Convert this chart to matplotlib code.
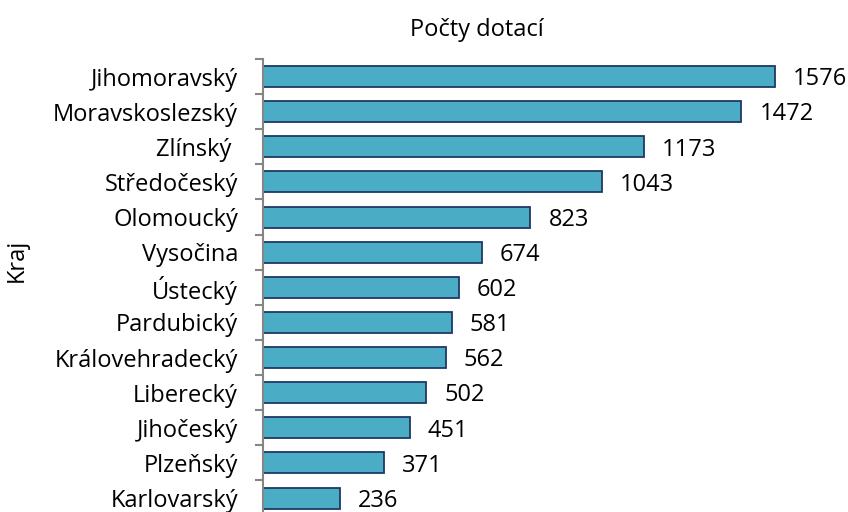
import matplotlib
matplotlib.use("Agg")
import matplotlib.pyplot as plt
import numpy as np

categories = ["Jihomoravský", "Moravskoslezský", "Zlínský ", "Středočeský", "Olomoucký",
              "Vysočina", "Ústecký", "Pardubický", "Královehradecký", "Liberecký",
              "Jihočeský", "Plzeňský", "Karlovarský"]
values = [1576, 1472, 1173, 1043, 823, 674, 602, 581, 562, 502, 451, 371, 236]
title = "Počty dotací"
ylabel = "Kraj"

plt.rcParams['font.family'] = ['Open Sans', 'DejaVu Sans']
FS = 17

fig = plt.figure(figsize=(8.48, 5.12), dpi=100)
ax = fig.add_axes([263/848, -3.6/512, 585/848, 456.6/512])

n = len(categories)
pos = np.arange(n)
ax.barh(pos, values, height=0.6, color="#4BACC6", edgecolor="#1F3864", linewidth=1.3)
ax.set_ylim(n - 0.5, -0.5)
ax.set_xlim(0, 1800)

for p, v in zip(pos, values):
    ax.annotate(str(v), xy=(v, p), xytext=(13, -2), textcoords="offset points",
                va="center", ha="left", fontsize=FS, color="#000000")

ax.set_yticks(pos)
ax.set_yticklabels(categories, fontsize=FS)
ax.tick_params(axis="y", which="major", length=0, pad=18)
ax.set_yticks(np.arange(-0.5, n, 1.0), minor=True)
ax.tick_params(axis="y", which="minor", length=6, width=1.5, color="#868686", direction="out")
ax.set_xticks([])
for s in ["top", "right", "bottom"]:
    ax.spines[s].set_visible(False)
ax.spines["left"].set_color("#868686")
ax.spines["left"].set_linewidth(1.5)

fig.text(477/848, 1 - 30/512, title, ha="center", va="center", fontsize=FS)
fig.text(17/848, 1 - 260/512, ylabel, ha="center", va="center", rotation=90, fontsize=FS)

fig.savefig("out.png", dpi=100)
